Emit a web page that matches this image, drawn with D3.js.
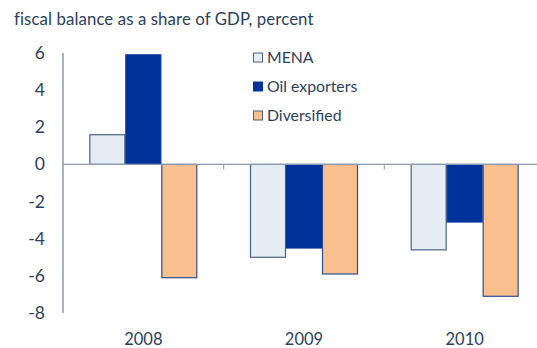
<!DOCTYPE html>
<html><head><meta charset="utf-8">
<script src="https://cdn.jsdelivr.net/npm/d3@7"></script>
<style>body{margin:0;background:#fff}svg{display:block}text{font-family:Lato,"Open Sans",sans-serif;fill:#2b3f5c}</style>
</head><body><svg id="c" width="537" height="348"></svg>
<script>
const years = ["2008","2009","2010"];
const series = ["MENA","Oil exporters","Diversified"];
const mena = [1.6,-5.0,-4.6];
const oil = [5.9,-4.5,-3.1];
const diversified = [-6.1,-5.9,-7.1];
const yTicks = [6,4,2,0,-2,-4,-6,-8];
const title = "fiscal balance as a share of GDP, percent";

const values = [mena, oil, diversified];
const fills = ["#e5ecf4","#003399","#f9c08e"];
const strokes = ["#4a6285","#003399","#2d4f95"];

const svg = d3.select("#c");
const y = d3.scaleLinear().domain([-8,6]).range([313,53]);
const x0 = d3.scaleBand().domain(years).range([63,545]).padding(0);
const gw = x0.bandwidth()*0.672;
const x1 = d3.scaleBand().domain(series).range([0,gw]).padding(0);

svg.append("text").attr("x",14).attr("y",25).attr("font-size",16.8).style("letter-spacing","0.1px").text(title);

// y axis line
svg.append("line").attr("x1",63).attr("x2",63).attr("y1",y(6)).attr("y2",y(-8))
  .attr("stroke","#8d9ab0").attr("stroke-width",1.5);

// y tick labels
svg.selectAll("text.yt").data(yTicks).join("text").attr("class","yt")
  .attr("x",45).attr("y",d=>y(d)+6).attr("text-anchor","end").attr("font-size",17.5).text(d=>d);

// bars
years.forEach((yr,i)=>{
  const g = svg.append("g").attr("transform",`translate(${x0(yr)+(x0.bandwidth()-gw)/2},0)`);
  series.forEach((s,j)=>{
    const v = values[j][i];
    g.append("rect").attr("x",x1(s)+0.5).attr("width",x1.bandwidth()-1)
      .attr("y",y(Math.max(0,v))).attr("height",Math.abs(y(v)-y(0)))
      .attr("fill",fills[j]).attr("stroke",strokes[j]).attr("stroke-width",1.2);
  });
});

// zero line
svg.append("line").attr("x1",63).attr("x2",537).attr("y1",y(0)).attr("y2",y(0))
  .attr("stroke","#8d9ab0").attr("stroke-width",1.3);
// category ticks
svg.selectAll("line.ct").data(years.slice(1)).join("line").attr("class","ct")
  .attr("x1",d=>x0(d)).attr("x2",d=>x0(d)).attr("y1",y(0)).attr("y2",y(0)+5)
  .attr("stroke","#8d9ab0").attr("stroke-width",1);

// x labels
svg.selectAll("text.xl").data(years).join("text").attr("class","xl")
  .attr("x",d=>x0(d)+x0.bandwidth()/2).attr("y",345).attr("text-anchor","middle")
  .attr("font-size",16.5).text(d=>d);

// legend
const lg = svg.append("g");
series.forEach((s,j)=>{
  const cy = 57.5 + j*29;
  lg.append("rect").attr("x",253.5).attr("y",cy-4.5).attr("width",9).attr("height",9)
    .attr("fill",fills[j]).attr("stroke",j===1?fills[1]:"#4a6285").attr("stroke-width",1);
  lg.append("text").attr("x",267).attr("y",cy+5.5).attr("font-size",15.8).text(s);
});
</script></body></html>
